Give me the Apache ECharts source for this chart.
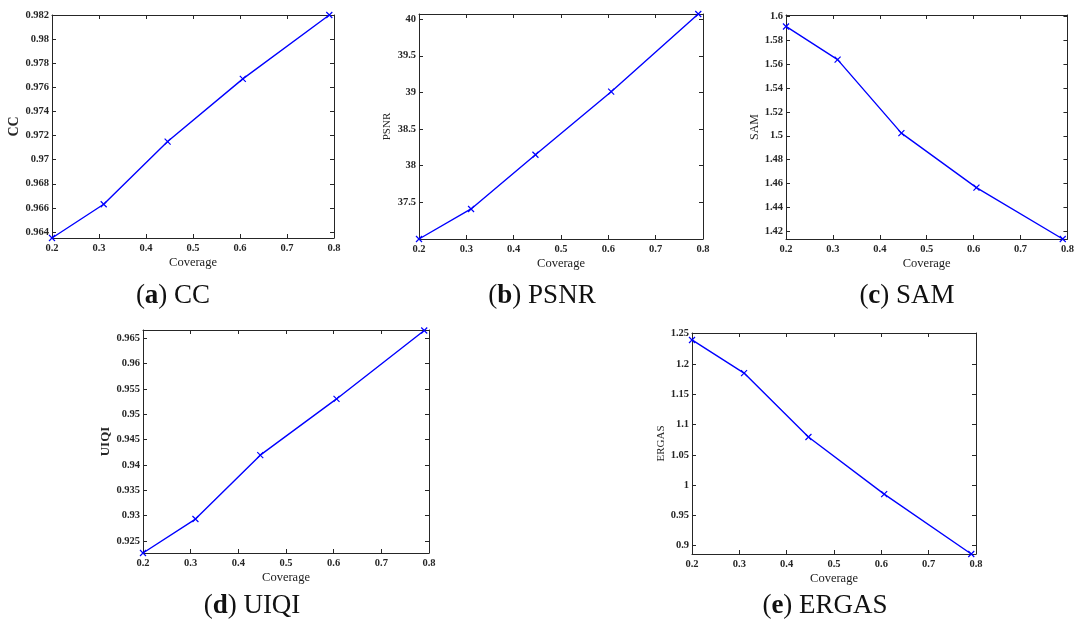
<!DOCTYPE html>
<html>
<head>
<meta charset="utf-8">
<script src="https://cdn.jsdelivr.net/npm/echarts@6/dist/echarts.min.js"></script>
<style>
html,body{margin:0;padding:0;background:#fff;}
#chart{width:1077px;height:623px;}
</style>
</head>
<body>
<div id="chart"></div>
<script>
// ---- data ----
const coverage = [0.2, 0.31, 0.446, 0.606, 0.79];
const ccValues = [0.9635, 0.9663, 0.9715, 0.9767, 0.982];
const psnrValues = [37.0, 37.41, 38.15, 39.01, 40.07];
const samValues = [1.5916, 1.5638, 1.5022, 1.4566, 1.4135];
const uiqiValues = [0.9226, 0.9293, 0.9419, 0.9530, 0.9665];
const ergasValues = [1.2397, 1.1850, 1.0795, 0.9851, 0.8863];

const xTicks = [0.2, 0.3, 0.4, 0.5, 0.6, 0.7, 0.8];
const ccTicks = [0.964, 0.966, 0.968, 0.97, 0.972, 0.974, 0.976, 0.978, 0.98, 0.982];
const psnrTicks = [37.5, 38, 38.5, 39, 39.5, 40];
const samTicks = [1.42, 1.44, 1.46, 1.48, 1.5, 1.52, 1.54, 1.56, 1.58, 1.6];
const uiqiTicks = [0.925, 0.93, 0.935, 0.94, 0.945, 0.95, 0.955, 0.96, 0.965];
const ergasTicks = [0.9, 0.95, 1, 1.05, 1.1, 1.15, 1.2, 1.25];

const metricNames = ['CC', 'PSNR', 'SAM', 'UIQI', 'ERGAS'];
const captionLetters = ['a', 'b', 'c', 'd', 'e'];
const seriesValues = [ccValues, psnrValues, samValues, uiqiValues, ergasValues];
const yTickSets = [ccTicks, psnrTicks, samTicks, uiqiTicks, ergasTicks];
const yRanges = [[0.9635, 0.982], [37.0, 40.07], [1.4135, 1.6012], [0.9226, 0.9666], [0.8863, 1.2512]];

// ---- layout (pixels) ----
const layout = [
  {left: 52, top: 15, width: 282, height: 223, nameGap: 23, nameSize: 14, nameBold: true, capX: 173, capY: 296},
  {left: 419, top: 14, width: 284, height: 225, nameGap: 26, nameSize: 11, nameBold: false, capX: 542, capY: 296},
  {left: 786, top: 15, width: 283, height: 224, nameGap: 25, nameSize: 12, nameBold: false, capX: 907, capY: 296},
  {left: 143, top: 330, width: 286, height: 223, nameGap: 29, nameSize: 13, nameBold: true, capX: 252, capY: 606},
  {left: 692, top: 333, width: 284, height: 221, nameGap: 25, nameSize: 11, nameBold: false, capX: 825, capY: 606}
];

const FONT = '"Liberation Serif", "DejaVu Serif", serif';
const AX = '#262626';
const fmt = v => String(parseFloat(v.toFixed(4)));

const grids = [], xAxes = [], yAxes = [], series = [], graphics = [];
layout.forEach((L, i) => {
  grids.push({left: L.left, top: L.top, width: L.width, height: L.height, show: false});
  const axBase = {
    type: 'value', gridIndex: i, splitLine: {show: false},
    axisLine: {show: true, onZero: false, lineStyle: {color: AX, width: 1}}
  };
  xAxes.push(Object.assign({}, axBase, {
    min: 0.2, max: 0.8, position: 'bottom',
    axisTick: {show: true, inside: true, length: 4, customValues: xTicks, lineStyle: {color: AX}},
    axisLabel: {show: true, customValues: xTicks, formatter: fmt, fontFamily: FONT, fontWeight: 'bold', fontSize: 10.5, color: AX, margin: 5},
    name: 'Coverage', nameLocation: 'middle', nameGap: 18,
    nameTextStyle: {fontFamily: FONT, fontSize: 12.5, color: '#1a1a1a', fontWeight: 'normal'}
  }));
  xAxes.push(Object.assign({}, axBase, {
    min: 0.2, max: 0.8, position: 'top',
    axisTick: {show: true, inside: true, length: 4, customValues: xTicks, lineStyle: {color: AX}},
    axisLabel: {show: false}
  }));
  const [ymin, ymax] = yRanges[i];
  const yt = yTickSets[i];
  yAxes.push(Object.assign({}, axBase, {
    min: ymin, max: ymax, position: 'left',
    axisTick: {show: true, inside: true, length: 4, customValues: yt, lineStyle: {color: AX}},
    axisLabel: {show: true, customValues: yt, formatter: fmt, fontFamily: FONT, fontWeight: 'bold', fontSize: 10.5, color: AX, margin: 3},
    name: metricNames[i], nameLocation: 'middle', nameGap: L.nameGap, nameRotate: 90,
    nameTextStyle: {fontFamily: FONT, fontSize: L.nameSize, color: AX, fontWeight: L.nameBold ? 'bold' : 'normal'}
  }));
  yAxes.push(Object.assign({}, axBase, {
    min: ymin, max: ymax, position: 'right',
    axisTick: {show: true, inside: true, length: 4, customValues: yt, lineStyle: {color: AX}},
    axisLabel: {show: false}
  }));
  series.push({
    type: 'line', xAxisIndex: 2 * i, yAxisIndex: 2 * i,
    data: coverage.map((x, j) => [x, seriesValues[i][j]]),
    lineStyle: {color: '#0000ff', width: 1.4},
    symbol: 'path://M0,0L10,10M10,0L0,10', symbolSize: 6, showSymbol: true,
    itemStyle: {color: '#0000ff', borderColor: '#0000ff', borderWidth: 1.2},
    clip: false, animation: false, silent: true
  });
  graphics.push({
    type: 'text', x: L.capX, y: L.capY,
    style: {
      text: '({b|' + captionLetters[i] + '}) ' + metricNames[i],
      fontFamily: FONT, fontSize: 27, fill: '#111',
      textAlign: 'center', textVerticalAlign: 'middle',
      rich: {b: {fontFamily: FONT, fontSize: 27, fontWeight: 'bold', fill: '#111'}}
    }
  });
});

const chart = echarts.init(document.getElementById('chart'), null, {renderer: 'canvas'});
chart.setOption({
  animation: false,
  backgroundColor: '#ffffff',
  grid: grids, xAxis: xAxes, yAxis: yAxes, series: series, graphic: graphics
});
</script>
</body>
</html>
